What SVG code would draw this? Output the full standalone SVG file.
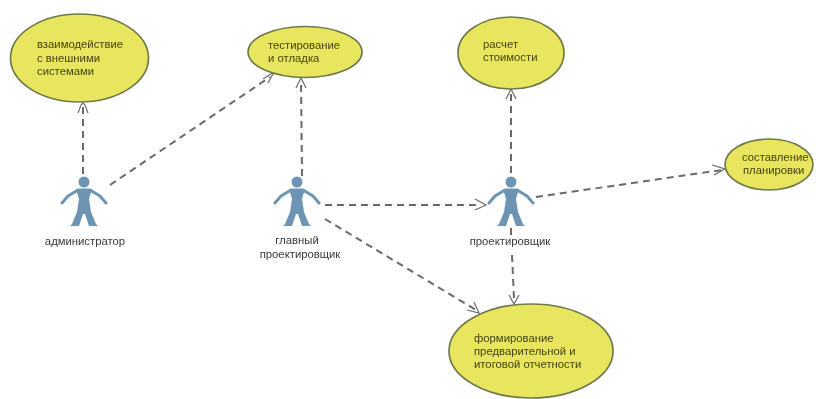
<svg xmlns="http://www.w3.org/2000/svg" width="816" height="399" viewBox="0 0 816 399">
<style>
text{font-family:"Liberation Sans",Arial,sans-serif;font-size:11.3px;fill:#3a3a3a}
.uc{fill:#e8e55f;stroke:#6f7a4a;stroke-width:1.7}
.uct{fill:#45450f}
.actor{fill:#6e94b4;stroke:none}
.arm{fill:none;stroke:#6e94b4;stroke-width:3;stroke-linecap:round;stroke-linejoin:round}
.dep{fill:none;stroke:#6a6a6a;stroke-width:2;stroke-dasharray:7 5}
.head{fill:none;stroke:#6a6a6a;stroke-width:1.2}
</style>
<defs>
<filter id="soft" x="0" y="0" width="816" height="399" filterUnits="userSpaceOnUse"><feGaussianBlur stdDeviation="0.45"/></filter>
<g id="person">
<circle cx="0" cy="-14" r="5.500" class="actor"/>
<path class="arm" d="M-22 7 L-16 0 L-6 -6 L6 -6 L16 0 L22 7"/>
<path class="actor" d="M-8 -7 L8 -7 L5 3 L7 16 L12 28 L14 30 L5 30 L1 18 L-1 18 L-5 30 L-14 30 L-12 28 L-7 16 L-5 3 Z"/>
</g>
</defs>
<rect width="816" height="399" fill="#ffffff"/>
<g filter="url(#soft)">
<g id="connectors">
<path class="dep" d="M83 174 L83 106"/><path class="head" d="M78 113 L81 105 L83 103 L85 105 L88 113"/>
<path class="dep" d="M110 185 L270 77"/><path class="head" d="M263 79 L274 72 L268 83"/>
<path class="dep" d="M302 176 L301 80"/><path class="head" d="M296 88 L301 78 L306 88"/>
<path class="dep" d="M325 205 L478 205"/><path class="head" d="M475 199 L486 205 L475 210"/>
<path class="dep" d="M325 219 L476 310"/><path class="head" d="M467 310 L479 313 L474 302"/>
<path class="dep" d="M511 173 L511 92"/><path class="head" d="M506 99 L511 89 L516 99"/>
<path class="dep" d="M536 197 L722 170"/><path class="head" d="M712 165 L725 169 L714 175"/>
<path class="dep" d="M511 228 L511 236 M512 255 L514 298"/><path class="head" d="M509 295 L514 304 L519 295"/>
</g>
<g id="uc-vzaimodeistvie"><ellipse class="uc" cx="79.500" cy="58" rx="69" ry="44"/><text class="uct" x="37" y="48">взаимодействие</text><text class="uct" x="37" y="62">с внешними</text><text class="uct" x="37" y="75">системами</text></g>
<g id="uc-testirovanie"><ellipse class="uc" cx="305" cy="52" rx="57" ry="25.500"/><text class="uct" x="268" y="49">тестирование</text><text class="uct" x="268" y="62">и отладка</text></g>
<g id="uc-raschet"><ellipse class="uc" cx="511" cy="53" rx="53" ry="36"/><text class="uct" x="483" y="48">расчет</text><text class="uct" x="483" y="61">стоимости</text></g>
<g id="uc-sostavlenie"><ellipse class="uc" cx="769" cy="164.500" rx="44" ry="25.500"/><text class="uct" x="742" y="161">составление</text><text class="uct" x="743" y="174">планировки</text></g>
<g id="uc-formirovanie"><ellipse class="uc" cx="531" cy="351" rx="82" ry="47"/><text class="uct" x="474" y="342">формирование</text><text class="uct" x="474" y="355">предварительной и</text><text class="uct" x="474" y="368">итоговой отчетности</text></g>
<g id="actor-admin"><use href="#person" x="84" y="196"/><text x="85" y="245" text-anchor="middle">администратор</text></g>
<g id="actor-chief"><use href="#person" x="297" y="196"/><text x="297" y="244" text-anchor="middle">главный</text><text x="300" y="258" text-anchor="middle">проектировщик</text></g>
<g id="actor-designer"><use href="#person" x="511" y="196"/><text x="510" y="245" text-anchor="middle">проектировщик</text></g>
</g>
</svg>
